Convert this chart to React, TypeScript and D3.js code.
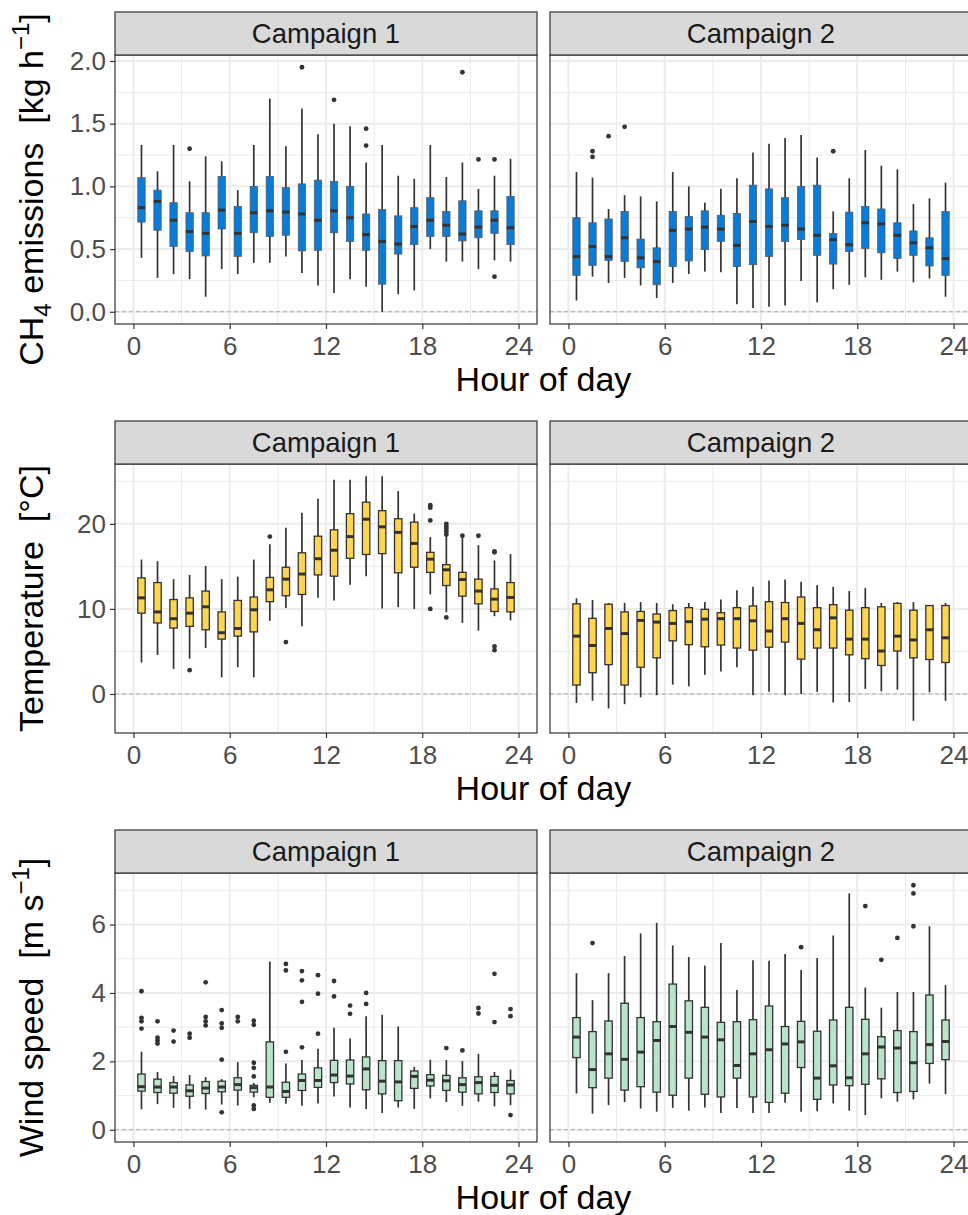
import React, { useRef, useEffect } from 'react'
import * as d3 from 'd3'

// hour-of-day bins (box centres)
const hours = [0.5, 1.5, 2.5, 3.5, 4.5, 5.5, 6.5, 7.5, 8.5, 9.5, 10.5, 11.5,
  12.5, 13.5, 14.5, 15.5, 16.5, 17.5, 18.5, 19.5, 20.5, 21.5, 22.5, 23.5]
const campaigns = ['Campaign 1', 'Campaign 2']
const hourTicks = [0, 6, 12, 18, 24]

// each box: [lower whisker, q1, median, q3, upper whisker]
const ch4C1 = [
  [0.43, 0.715, 0.83, 1.07, 1.33], [0.27, 0.65, 0.88, 0.97, 1.12], [0.30, 0.52, 0.73, 0.87, 1.33],
  [0.26, 0.48, 0.64, 0.79, 1.04], [0.12, 0.445, 0.625, 0.79, 1.24], [0.34, 0.66, 0.81, 1.08, 1.20],
  [0.30, 0.44, 0.625, 0.84, 0.97], [0.39, 0.63, 0.79, 1.00, 1.33], [0.39, 0.60, 0.805, 1.08, 1.70],
  [0.44, 0.61, 0.795, 0.99, 1.32], [0.31, 0.485, 0.78, 1.02, 1.62], [0.21, 0.49, 0.73, 1.05, 1.415],
  [0.15, 0.63, 0.805, 1.04, 1.50], [0.26, 0.56, 0.75, 1.00, 1.48], [0.20, 0.49, 0.615, 0.78, 1.19],
  [0.00, 0.22, 0.56, 0.815, 1.33], [0.14, 0.46, 0.54, 0.765, 1.085], [0.17, 0.535, 0.68, 0.83, 1.06],
  [0.50, 0.60, 0.73, 0.91, 1.33], [0.40, 0.60, 0.69, 0.80, 1.075], [0.40, 0.565, 0.62, 0.885, 1.19],
  [0.34, 0.59, 0.675, 0.805, 0.98], [0.41, 0.625, 0.73, 0.805, 1.085], [0.40, 0.535, 0.67, 0.92, 1.22],
]
const ch4C1Out = [[3.5, 1.30], [10.5, 1.95], [12.5, 1.69], [14.5, 1.46], [14.5, 1.325],
  [20.5, 1.91], [21.5, 1.215], [22.5, 1.215], [22.5, 0.28]]

const ch4C2 = [
  [0.09, 0.29, 0.44, 0.75, 1.115], [0.28, 0.37, 0.52, 0.71, 1.07], [0.23, 0.41, 0.44, 0.74, 0.82],
  [0.27, 0.40, 0.59, 0.80, 0.93], [0.21, 0.35, 0.43, 0.58, 0.92], [0.11, 0.215, 0.40, 0.51, 0.88],
  [0.23, 0.36, 0.65, 0.80, 1.115], [0.30, 0.405, 0.66, 0.76, 1.00], [0.32, 0.495, 0.675, 0.805, 0.87],
  [0.315, 0.56, 0.66, 0.77, 0.98], [0.06, 0.36, 0.53, 0.785, 1.065], [0.03, 0.375, 0.72, 1.01, 1.27],
  [0.04, 0.44, 0.68, 0.98, 1.34], [0.05, 0.56, 0.69, 0.91, 1.385], [0.245, 0.575, 0.66, 1.00, 1.41],
  [0.075, 0.45, 0.61, 1.01, 1.23], [0.18, 0.38, 0.575, 0.625, 0.80], [0.215, 0.48, 0.535, 0.795, 1.065],
  [0.275, 0.505, 0.71, 0.84, 1.29], [0.255, 0.47, 0.70, 0.82, 1.165], [0.32, 0.425, 0.61, 0.71, 1.135],
  [0.235, 0.45, 0.55, 0.645, 0.86], [0.265, 0.365, 0.51, 0.59, 0.905], [0.12, 0.29, 0.425, 0.80, 1.03],
]
const ch4C2Out = [[1.5, 1.28], [1.5, 1.235], [2.5, 1.40], [3.5, 1.475], [16.5, 1.28]]

const tempC1 = [
  [3.7, 9.5, 11.3, 13.65, 15.8], [4.6, 8.35, 9.65, 13.1, 15.6], [2.95, 7.75, 8.85, 11.1, 13.5],
  [4.15, 7.95, 9.5, 11.3, 14.0], [5.4, 7.55, 10.25, 12.1, 15.05], [1.95, 6.45, 7.2, 9.65, 13.5],
  [3.15, 6.8, 7.7, 11.0, 13.8], [1.95, 7.3, 9.9, 11.4, 15.8], [8.6, 10.85, 12.25, 13.7, 17.6],
  [10.1, 11.55, 13.5, 14.9, 19.55], [7.95, 11.7, 14.1, 16.6, 21.3], [11.3, 14.0, 15.9, 18.55, 22.95],
  [11.0, 13.85, 16.9, 19.3, 25.2], [12.85, 15.95, 18.5, 21.2, 25.2], [13.85, 16.4, 20.55, 22.55, 25.6],
  [10.05, 16.5, 19.65, 21.55, 25.6], [10.2, 14.25, 19.0, 20.6, 23.85], [10.0, 14.9, 17.7, 20.2, 21.2],
  [11.7, 14.3, 15.85, 16.65, 18.45], [9.6, 12.75, 14.6, 15.2, 18.55], [8.35, 11.5, 13.45, 14.3, 18.35],
  [7.45, 10.6, 12.1, 13.5, 17.5], [9.15, 9.7, 11.15, 12.35, 15.7], [8.65, 9.65, 11.35, 13.1, 16.45],
]
const tempC1Out = [[3.5, 2.8], [8.5, 18.5], [9.5, 6.1], [18.5, 22.2], [18.5, 21.9], [18.5, 20.4],
  [18.5, 10.0], [19.5, 20.0], [19.5, 19.7], [19.5, 19.4], [19.5, 19.1], [19.5, 18.75], [19.5, 9.0],
  [20.5, 18.6], [21.5, 18.6], [22.5, 16.75], [22.5, 16.65], [22.5, 5.6], [22.5, 5.15]]

const tempC2 = [
  [-1.05, 1.05, 6.8, 10.6, 11.25], [-0.8, 2.5, 5.7, 8.9, 11.05], [-1.7, 3.45, 7.7, 10.55, 10.7],
  [-1.2, 1.05, 7.1, 9.65, 10.7], [-0.4, 3.15, 8.65, 9.7, 10.8], [-0.15, 4.25, 8.45, 9.4, 10.7],
  [1.1, 6.25, 8.3, 9.8, 10.55], [0.9, 5.8, 8.5, 10.15, 10.7], [2.25, 5.55, 8.8, 9.95, 10.8],
  [2.65, 5.75, 8.85, 9.55, 11.1], [3.15, 5.4, 8.85, 10.15, 12.2], [-0.15, 5.15, 8.6, 10.35, 12.6],
  [0.25, 5.5, 7.4, 10.85, 13.35], [-0.15, 6.1, 8.85, 10.75, 13.45], [0.0, 4.1, 8.3, 11.4, 13.2],
  [0.25, 5.4, 7.55, 10.15, 12.8], [-1.0, 5.4, 8.95, 10.5, 12.6], [-0.95, 4.6, 6.45, 9.85, 12.1],
  [0.6, 4.15, 6.45, 10.15, 12.45], [0.3, 3.35, 5.05, 10.25, 10.7], [0.5, 5.05, 6.8, 10.65, 10.8],
  [-3.15, 4.25, 6.35, 9.85, 10.8], [0.2, 4.05, 7.55, 10.4, 10.4], [-0.8, 3.7, 6.6, 10.4, 10.7],
]
const tempC2Out: number[][] = []

const windC1 = [
  [0.60, 1.13, 1.26, 1.63, 2.28], [0.75, 1.09, 1.25, 1.48, 1.69], [0.64, 1.07, 1.25, 1.38, 1.57],
  [0.61, 0.98, 1.14, 1.31, 1.60], [0.59, 1.06, 1.22, 1.41, 1.54], [0.74, 1.11, 1.25, 1.42, 1.48],
  [0.71, 1.16, 1.32, 1.52, 1.98], [0.95, 1.10, 1.23, 1.30, 1.37], [0.79, 0.95, 1.25, 2.57, 4.92],
  [0.76, 0.95, 1.12, 1.39, 1.94], [0.70, 1.15, 1.44, 1.63, 2.04], [0.77, 1.24, 1.44, 1.81, 2.37],
  [0.97, 1.38, 1.60, 2.03, 2.98], [0.65, 1.34, 1.57, 2.04, 2.67], [0.61, 1.17, 1.78, 2.13, 3.32],
  [0.49, 1.05, 1.42, 2.02, 3.36], [0.65, 0.85, 1.40, 2.02, 3.02], [0.61, 1.21, 1.56, 1.72, 1.84],
  [0.92, 1.28, 1.45, 1.61, 2.05], [0.81, 1.15, 1.43, 1.59, 2.04], [0.70, 1.10, 1.32, 1.52, 2.01],
  [0.82, 1.05, 1.38, 1.55, 2.22], [0.68, 1.09, 1.30, 1.56, 1.69], [0.72, 1.05, 1.31, 1.44, 1.76],
]
const windC1Out = [
  [0.5, 4.05], [0.5, 3.27], [0.5, 3.17], [0.5, 2.96], [1.5, 3.17], [1.5, 2.69], [1.5, 2.61], [1.5, 2.52],
  [2.5, 2.90], [2.5, 2.58], [3.5, 2.81], [3.5, 2.69], [4.5, 4.31], [4.5, 3.30], [4.5, 3.17], [4.5, 3.05],
  [5.5, 3.50], [5.5, 3.11], [5.5, 2.98], [5.5, 2.05], [5.5, 0.51], [6.5, 3.30], [6.5, 3.17],
  [7.5, 3.19], [7.5, 3.07], [7.5, 1.96], [7.5, 1.81], [7.5, 1.56], [7.5, 0.71], [7.5, 0.61],
  [9.5, 4.85], [9.5, 4.66], [9.5, 2.28], [10.5, 4.64], [10.5, 4.37], [10.5, 3.74], [10.5, 2.41],
  [11.5, 4.52], [11.5, 3.98], [11.5, 2.81], [12.5, 4.35], [12.5, 3.90], [13.5, 3.63], [13.5, 3.39],
  [14.5, 4.00], [14.5, 3.68], [19.5, 2.39], [20.5, 2.32], [21.5, 3.56], [21.5, 3.40],
  [22.5, 4.56], [22.5, 3.15], [23.5, 3.53], [23.5, 3.32], [23.5, 0.43],
]

const windC2 = [
  [1.06, 2.11, 2.71, 3.28, 4.58], [0.47, 1.23, 1.76, 2.87, 3.79], [0.72, 1.51, 2.22, 3.18, 4.58],
  [0.81, 1.16, 2.06, 3.70, 5.08], [0.62, 1.26, 2.27, 3.28, 5.74], [0.53, 1.10, 2.61, 3.16, 6.05],
  [0.64, 1.01, 3.02, 4.26, 5.39], [0.56, 1.51, 2.85, 3.77, 5.05], [0.65, 1.04, 2.71, 3.58, 4.80],
  [0.49, 0.96, 2.63, 3.14, 5.46], [0.64, 1.51, 1.88, 3.16, 4.09], [0.49, 0.96, 2.22, 3.22, 4.96],
  [0.49, 0.80, 2.34, 3.62, 4.94], [0.79, 1.07, 2.51, 3.02, 5.14], [0.53, 1.82, 2.57, 3.17, 4.67],
  [0.54, 0.89, 1.51, 2.88, 5.02], [0.77, 1.31, 1.87, 3.21, 5.68], [0.56, 1.29, 1.52, 3.58, 6.91],
  [0.43, 1.33, 2.22, 3.23, 4.16], [0.92, 1.49, 2.42, 2.72, 3.57], [0.82, 1.09, 2.39, 2.90, 4.03],
  [0.89, 1.12, 1.96, 2.87, 4.03], [1.35, 1.94, 2.49, 3.94, 5.95], [1.04, 2.05, 2.58, 3.21, 4.23],
]
const windC2Out = [[1.5, 5.46], [14.5, 5.34], [18.5, 6.54], [19.5, 4.97], [20.5, 5.61],
  [21.5, 7.15], [21.5, 6.91], [21.5, 5.95]]

const ch4Ticks = [0, 0.5, 1, 1.5, 2]
const tempTicks = [0, 10, 20]
const windTicks = [0, 2, 4, 6]

const rows = [
  { boxes: [ch4C1, ch4C2], outs: [ch4C1Out, ch4C2Out], ticks: ch4Ticks, fmt: d3.format('.1f'),
    fill: '#0A7BD7', stroke: '#555', sw: 0.7, title: 'ch4' },
  { boxes: [tempC1, tempC2], outs: [tempC1Out, tempC2Out], ticks: tempTicks, fmt: d3.format('d'),
    fill: '#FFD54F', stroke: '#333', sw: 1.3, title: 'temp' },
  { boxes: [windC1, windC2], outs: [windC1Out, windC2Out], ticks: windTicks, fmt: d3.format('d'),
    fill: '#B8E5C8', stroke: '#333', sw: 1.3, title: 'wind' },
]

const W = 968, H = 1215
const colLeft = [115, 550]
const panelW = 422
const stripTop = [12, 421, 830]
const stripH = 43
const panelH = 269
const FONT = '"Liberation Sans", Arial, Helvetica, sans-serif'

const App = () => {
  const ref = useRef<SVGSVGElement>(null)

  useEffect(() => {
    const svg = d3.select(ref.current)
    svg.selectAll('*').remove()
    svg.append('rect').attr('width', W).attr('height', H).attr('fill', '#fff')

    rows.forEach((row, ri) => {
      const top = stripTop[ri] + stripH
      const bottom = top + panelH

      // shared y scale per row, ggplot-style 5% expansion
      const all: number[] = []
      row.boxes.forEach(bs => bs.forEach(b => all.push(...b)))
      row.outs.forEach(os => os.forEach(o => all.push(o[1])))
      const lo = Math.min(0, d3.min(all) as number), hi = d3.max(all) as number
      const pad = (hi - lo) * 0.05
      const y = d3.scaleLinear().domain([lo - pad, hi + pad]).range([bottom, top])

      const step = row.ticks[1] - row.ticks[0]
      const minor = [row.ticks[0] - step / 2, ...row.ticks.map(t => t + step / 2)]
        .filter(v => v > lo - pad && v < hi + pad)

      campaigns.forEach((name, ci) => {
        const left = colLeft[ci]
        const x = d3.scaleLinear().domain([-1.15, 25.15]).range([left, left + panelW])
        const g = svg.append('g')

        // grid
        g.selectAll('.ym').data(minor).enter().append('line')
          .attr('x1', left).attr('x2', left + panelW)
          .attr('y1', d => y(d)).attr('y2', d => y(d))
          .attr('stroke', '#EBEBEB').attr('stroke-width', 1)
        g.selectAll('.xm').data([3, 9, 15, 21]).enter().append('line')
          .attr('x1', d => x(d)).attr('x2', d => x(d))
          .attr('y1', top).attr('y2', bottom)
          .attr('stroke', '#EBEBEB').attr('stroke-width', 1)
        g.selectAll('.yM').data(row.ticks).enter().append('line')
          .attr('x1', left).attr('x2', left + panelW)
          .attr('y1', d => y(d)).attr('y2', d => y(d))
          .attr('stroke', '#EBEBEB').attr('stroke-width', 2)
        g.selectAll('.xM').data(hourTicks).enter().append('line')
          .attr('x1', d => x(d)).attr('x2', d => x(d))
          .attr('y1', top).attr('y2', bottom)
          .attr('stroke', '#EBEBEB').attr('stroke-width', 2)

        // zero reference
        g.append('line')
          .attr('x1', left).attr('x2', left + panelW)
          .attr('y1', y(0)).attr('y2', y(0))
          .attr('stroke', '#A8A8A8').attr('stroke-width', 1).attr('stroke-dasharray', '4,3')

        const bw = x(0.46) - x(0)
        const boxes = row.boxes[ci]
        const bg = g.selectAll('.box').data(boxes).enter().append('g')

        bg.append('line')
          .attr('x1', (d, i) => x(hours[i])).attr('x2', (d, i) => x(hours[i]))
          .attr('y1', d => y(d[0])).attr('y2', d => y(d[4]))
          .attr('stroke', '#333').attr('stroke-width', 1.7)
        bg.append('rect')
          .attr('x', (d, i) => x(hours[i]) - bw / 2).attr('width', bw)
          .attr('y', d => y(d[3])).attr('height', d => y(d[1]) - y(d[3]))
          .attr('fill', row.fill).attr('stroke', row.stroke).attr('stroke-width', row.sw)
        bg.append('line')
          .attr('x1', (d, i) => x(hours[i]) - bw / 2).attr('x2', (d, i) => x(hours[i]) + bw / 2)
          .attr('y1', d => y(d[2])).attr('y2', d => y(d[2]))
          .attr('stroke', '#333').attr('stroke-width', 3)

        g.selectAll('.out').data(row.outs[ci]).enter().append('circle')
          .attr('cx', d => x(d[0])).attr('cy', d => y(d[1]))
          .attr('r', 2.4).attr('fill', '#333')

        // panel border
        g.append('rect')
          .attr('x', left).attr('y', top).attr('width', panelW).attr('height', panelH)
          .attr('fill', 'none').attr('stroke', '#333').attr('stroke-width', 1.2)

        // strip
        g.append('rect')
          .attr('x', left).attr('y', stripTop[ri]).attr('width', panelW).attr('height', stripH)
          .attr('fill', '#D9D9D9').attr('stroke', '#333').attr('stroke-width', 1.2)
        g.append('text')
          .attr('x', left + panelW / 2).attr('y', stripTop[ri] + stripH / 2)
          .attr('dy', '0.36em').attr('text-anchor', 'middle')
          .attr('font-family', FONT).attr('font-size', 27.5).attr('fill', '#1A1A1A')
          .text(name)

        // x axis
        const xa = g.append('g').attr('transform', `translate(0,${bottom})`)
          .call(d3.axisBottom(x).tickValues(hourTicks).tickSize(5).tickPadding(8).tickFormat(d3.format('d')))
        xa.select('.domain').remove()
        xa.selectAll('line').attr('stroke', '#333').attr('stroke-width', 1.2)
        xa.selectAll('text').attr('font-family', FONT).attr('font-size', 26).attr('fill', '#4D4D4D')

        if (ci === 0) {
          const ya = g.append('g').attr('transform', `translate(${left},0)`)
            .call(d3.axisLeft(y).tickValues(row.ticks).tickSize(5).tickPadding(4).tickFormat(row.fmt as any))
          ya.select('.domain').remove()
          ya.selectAll('line').attr('stroke', '#333').attr('stroke-width', 1.2)
          ya.selectAll('text').attr('font-family', FONT).attr('font-size', 26).attr('fill', '#4D4D4D')
        }
      })

      // x axis title
      svg.append('text')
        .attr('x', (colLeft[0] + colLeft[1] + panelW) / 2).attr('y', bottom + 67)
        .attr('text-anchor', 'middle').attr('font-family', FONT).attr('font-size', 34).attr('fill', '#000')
        .text('Hour of day')

      // y axis title
      const yt = svg.append('text')
        .attr('transform', `translate(43,${(top + bottom) / 2}) rotate(-90)`)
        .attr('text-anchor', 'middle').attr('font-family', FONT).attr('font-size', 34).attr('fill', '#000')
        .style('white-space', 'pre')
      if (row.title === 'ch4') {
        yt.append('tspan').text('CH')
        yt.append('tspan').attr('font-size', 24).attr('dy', 8).text('4')
        yt.append('tspan').attr('dy', -8).text(' emissions  [kg h')
        yt.append('tspan').attr('font-size', 24).attr('dy', -14).text('\u22121')
        yt.append('tspan').attr('dy', 14).text(']')
      } else if (row.title === 'temp') {
        yt.append('tspan').text('Temperature  [\u00B0C]')
      } else {
        yt.append('tspan').text('Wind speed  [m s')
        yt.append('tspan').attr('font-size', 24).attr('dy', -14).text('\u22121')
        yt.append('tspan').attr('dy', 14).text(']')
      }
    })
  }, [])

  return (
    <svg ref={ref} width={W} height={H} style={{ position: 'absolute', left: 0, top: 0, display: 'block' }} />
  )
}

export default App
